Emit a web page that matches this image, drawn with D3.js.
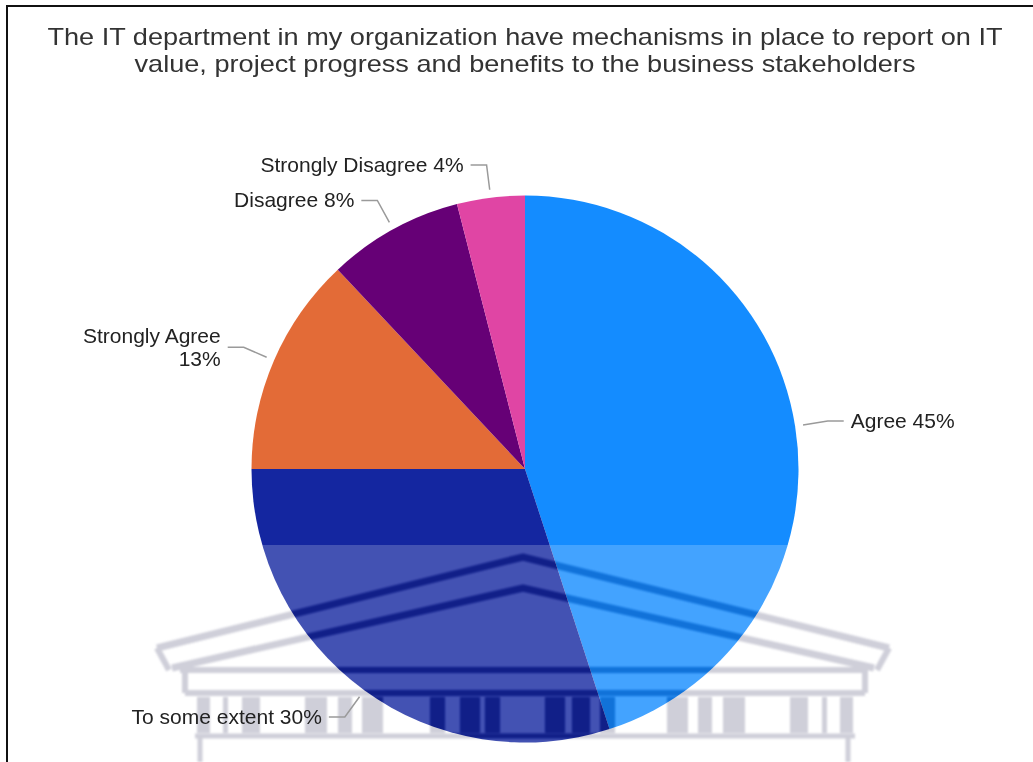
<!DOCTYPE html>
<html>
<head>
<meta charset="utf-8">
<script src="https://cdn.jsdelivr.net/npm/d3@7"></script>
<style>
  html, body { margin: 0; padding: 0; background: #ffffff; }
  svg { display: block; font-family: "Liberation Sans", Arial, sans-serif; }
</style>
</head>
<body>
<svg id="chart" width="1033" height="762"></svg>
<script>
// ---- data ----
const titleLines = [
  "The IT department in my organization have mechanisms in place to report on IT",
  "value, project progress and benefits to the business stakeholders"
];
const categories = ["Agree", "To some extent", "Strongly Agree", "Disagree", "Strongly Disagree"];
const shares = [45, 30, 13, 8, 4];
const sliceColors = ["#148cff", "#1426a0", "#e36b37", "#660076", "#e045a4"];

// ---- layout ----
const W = 1033, H = 762;
const cx = 525, cy = 469, r = 273.5;
const labelFont = 21, titleFont = 24, titleStretch = 1.13;

const svg = d3.select("#chart");
const defs = svg.append("defs");

// frame
svg.append("path")
  .attr("d", `M7,${H} L7,6 L${W},6`)
  .attr("fill", "none").attr("stroke", "#111").attr("stroke-width", 2);

// title (slightly widened glyphs)
svg.append("g").selectAll("text").data(titleLines).join("text")
  .attr("x", cx).attr("y", (d, i) => 45 + i * 27)
  .attr("text-anchor", "middle")
  .attr("font-size", titleFont)
  .attr("fill", "#333")
  .text(d => d)
  .each(function () {
    const len = this.getComputedTextLength();
    d3.select(this).attr("textLength", len * titleStretch).attr("lengthAdjust", "spacingAndGlyphs");
  });

// pie
const rows = categories.map((c, i) => ({ name: c, value: shares[i], color: sliceColors[i] }));
const pie = d3.pie().sort(null).value(d => d.value);
const arcs = pie(rows);
const arc = d3.arc().innerRadius(0).outerRadius(r);

const pieG = svg.append("g").attr("transform", `translate(${cx},${cy})`);
pieG.selectAll("path").data(arcs).join("path")
  .attr("d", arc)
  .attr("fill", d => d.data.color);

// ---- faint building watermark across the lower part of the page ----
const bx = x => cx + x;   // horizontal offsets from the centre line
const pillars = [[-328, -315], [-302, -297], [-283, -265], [-220, -198], [-187, -173], [-163, -142],
                 [-95, -80], [-65, -45], [-40, -25], [20, 40], [47, 65], [75, 90],
                 [142, 163], [173, 187], [198, 220], [265, 283], [297, 302], [315, 328]];

function drawBuilding(g, color) {
  g.attr("fill", "none").attr("stroke", color).attr("stroke-linejoin", "miter");
  g.append("polyline").attr("stroke-width", 7)
    .attr("points", [[-368, 648], [-2, 557], [364, 648]].map(p => [bx(p[0]), p[1]]).join(" "));
  g.append("polyline").attr("stroke-width", 7)
    .attr("points", [[-353, 668], [-2, 588], [349, 668]].map(p => [bx(p[0]), p[1]]).join(" "));
  g.append("path").attr("stroke-width", 6)
    .attr("d", `M${bx(-368)},648 L${bx(-356)},670 M${bx(364)},648 L${bx(352)},670`);
  g.append("path").attr("stroke-width", 6)
    .attr("d", `M${bx(-345)},670 H${bx(343)} M${bx(-340)},693 H${bx(340)}
                M${bx(-340)},670 V693 M${bx(340)},670 V693`);
  g.selectAll("rect").data(pillars).join("rect")
    .attr("x", d => bx(d[0])).attr("width", d => d[1] - d[0])
    .attr("y", 697).attr("height", 36)
    .attr("fill", color).attr("stroke", "none");
  g.append("path").attr("stroke-width", 5)
    .attr("d", `M${bx(-330)},736 H${bx(330)} M${bx(-325)},736 V${H} M${bx(323)},736 V${H}`);
}

defs.append("filter").attr("id", "soft")
  .attr("x", "-5%").attr("y", "-5%").attr("width", "110%").attr("height", "110%")
  .append("feGaussianBlur").attr("stdDeviation", 1.1);

// the pale wash skips the building strokes, which instead darken what lies beneath
const mask = defs.append("mask").attr("id", "washMask")
  .attr("maskUnits", "userSpaceOnUse").attr("x", 0).attr("y", 0).attr("width", W).attr("height", H);
mask.append("rect").attr("x", 0).attr("y", 0).attr("width", W).attr("height", H).attr("fill", "#fff");
drawBuilding(mask.append("g").attr("filter", "url(#soft)"), "#000");

svg.append("rect")
  .attr("x", 128).attr("y", 545).attr("width", 797).attr("height", H - 545)
  .attr("fill", "#ffffff").attr("opacity", 0.2)
  .attr("mask", "url(#washMask)");

drawBuilding(svg.append("g").attr("filter", "url(#soft)").style("mix-blend-mode", "multiply"), "#cfcfd9");

// ---- labels with leader lines ----
const labelG = svg.append("g");
const startR = r + 8, elbowR = r + 33, run = 16, gap = 7, minLeft = 60;
const pt = (a, R) => [cx + R * Math.sin(a), cy - R * Math.cos(a)];

arcs.forEach(d => {
  const a = (d.startAngle + d.endAngle) / 2;
  const right = Math.sin(a) >= 0;
  const dir = right ? 1 : -1;
  const p0 = pt(a, startR);
  const p1 = pt(a, elbowR);
  const p2 = [p1[0] + dir * run, p1[1]];

  labelG.append("polyline")
    .attr("points", [p0, p1, p2].join(" "))
    .attr("fill", "none").attr("stroke", "#9a9a9a").attr("stroke-width", 1.5);

  const tx = p2[0] + dir * gap;
  const full = `${d.data.name} ${d.data.value}%`;
  const t = labelG.append("text")
    .attr("x", tx).attr("y", p1[1] + 7)
    .attr("text-anchor", right ? "start" : "end")
    .attr("font-size", labelFont).attr("fill", "#222")
    .text(full);

  // wrap onto two lines when the label would run past the left margin
  const w = t.node().getComputedTextLength();
  if (!right && tx - w < minLeft) {
    const lines = [d.data.name, `${d.data.value}%`];
    t.text(null);
    lines.forEach((s, i) => {
      t.append("tspan")
        .attr("x", tx)
        .attr("y", p1[1] + 7 + (i - (lines.length - 1) / 2) * 23)
        .text(s);
    });
  }
});
</script>
</body>
</html>
